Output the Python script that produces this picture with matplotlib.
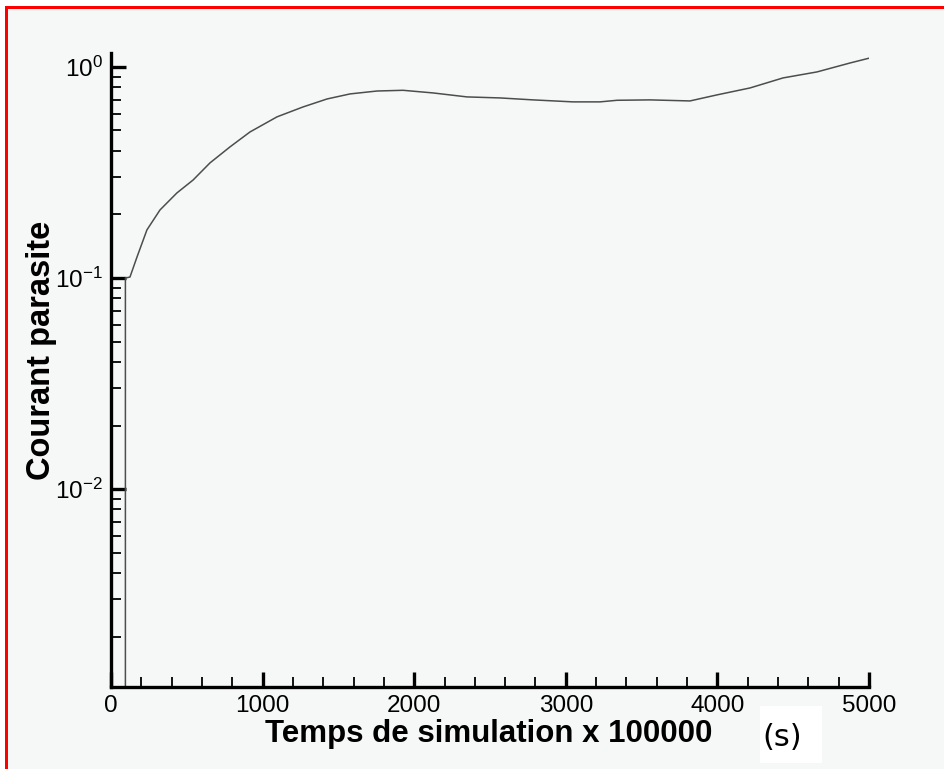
import matplotlib
matplotlib.use("Agg")
import matplotlib.pyplot as plt
from matplotlib.patches import Rectangle
from matplotlib.ticker import LogLocator, MultipleLocator, NullFormatter

# temps (x 100000 s) et courant parasite
temps = [95, 95, 125, 172, 237, 323, 435, 541, 653, 785, 917, 1095, 1266,
         1425, 1577, 1755, 1926, 2124, 2348, 2566, 2784, 3047, 3226, 3338,
         3555, 3819, 3997, 4215, 4433, 4657, 4875, 5000]
courant = [0.001, 0.1, 0.101, 0.126, 0.169, 0.210, 0.253, 0.291, 0.351, 0.418,
           0.492, 0.580, 0.646, 0.705, 0.745, 0.769, 0.775, 0.753, 0.721,
           0.713, 0.698, 0.683, 0.683, 0.695, 0.698, 0.690, 0.737, 0.795,
           0.887, 0.947, 1.044, 1.10]

plt.rcParams['font.family'] = ['Liberation Sans', 'DejaVu Sans']
plt.rcParams['axes.unicode_minus'] = False

W, H = 945, 769
fig = plt.figure(figsize=(W / 100, H / 100), dpi=100)
fig.patch.set_facecolor((0.965, 0.968, 0.968))

# cadre rouge (haut et gauche) avec marge blanche
fig.patches.append(Rectangle((0, 1 - 6 / H), 1, 6 / H, transform=fig.transFigure,
                             facecolor='white', edgecolor='none'))
fig.patches.append(Rectangle((0, 0), 5 / W, 1, transform=fig.transFigure,
                             facecolor='white', edgecolor='none'))
fig.patches.append(Rectangle((5 / W, 1 - 9 / H), 1, 3 / H, transform=fig.transFigure,
                             facecolor='red', edgecolor='none'))
fig.patches.append(Rectangle((5 / W, 0), 3 / W, 1 - 6 / H, transform=fig.transFigure,
                             facecolor='red', edgecolor='none'))

x0, x1 = 111, 869
ytop, ybot = 53, 687
ax = fig.add_axes([x0 / W, 1 - ybot / H, (x1 - x0) / W, (ybot - ytop) / H])
ax.patch.set_alpha(0)

ax.plot(temps, courant, color=(0.3, 0.3, 0.3), lw=1.1)

ax.set_yscale('log')
ax.set_xlim(0, 5000)
ax.set_ylim(10 ** -2.938, 10 ** 0.066)

ax.spines['top'].set_visible(False)
ax.spines['right'].set_visible(False)
for s in ('left', 'bottom'):
    ax.spines[s].set_linewidth(2.4)

ax.xaxis.set_major_locator(MultipleLocator(1000))
ax.xaxis.set_minor_locator(MultipleLocator(200))
ax.yaxis.set_major_locator(LogLocator(base=10, numticks=10))
ax.yaxis.set_minor_locator(LogLocator(base=10, subs=range(2, 10), numticks=10))
ax.yaxis.set_minor_formatter(NullFormatter())

ax.tick_params(which='major', direction='in', length=11, width=2.4,
               labelsize=17.5, pad=6)
ax.tick_params(which='minor', direction='in', length=7, width=1.3)

fig.text(489 / W, 1 - 734 / H, 'Temps de simulation x 100000', fontsize=22.5,
         fontweight='bold', ha='center', va='center')
fig.text(42 / W, 1 - 350 / H, 'Courant parasite', fontsize=23.5,
         fontweight='bold', ha='center', va='center', rotation=90)

# étiquette d'unité sur fond blanc
fig.patches.append(Rectangle((760 / W, 1 - 763 / H), 62 / W, 57 / H,
                             transform=fig.transFigure, facecolor='white',
                             edgecolor='none'))
fig.text(782 / W, 1 - 738 / H, '(s)', fontsize=22, family='DejaVu Sans',
         ha='center', va='center')

fig.savefig('out.png', dpi=100, facecolor=fig.get_facecolor())
